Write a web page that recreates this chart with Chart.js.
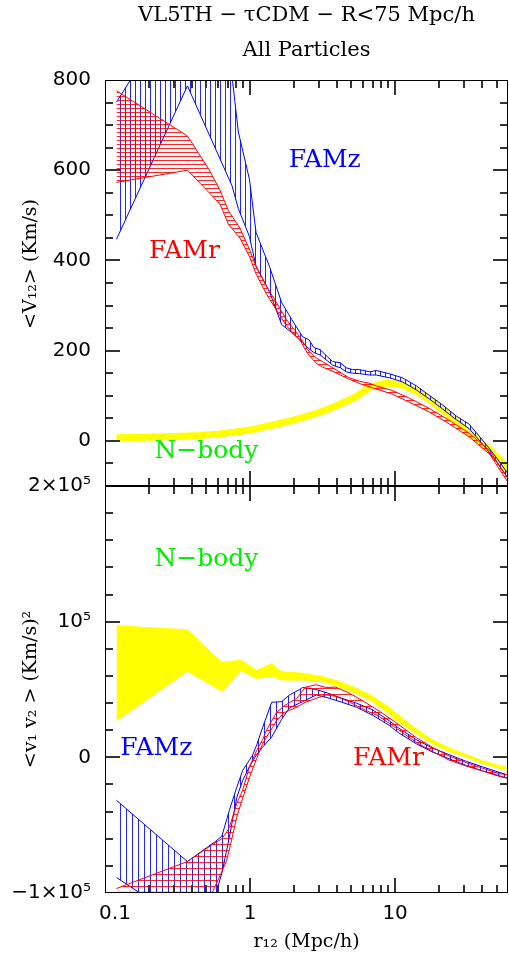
<!DOCTYPE html>
<html><head><meta charset="utf-8">
<script src="https://cdn.jsdelivr.net/npm/chart.js@4.4.1/dist/chart.umd.min.js"></script>
<style>
html,body{margin:0;padding:0;background:#fff;width:509px;height:961px;overflow:hidden}
#cTop{position:absolute;left:0;top:0}
#cBot{position:absolute;left:0;top:466px}
</style></head><body>
<canvas id="cTop" width="509" height="487"></canvas>
<canvas id="cBot" width="509" height="495"></canvas>
<script>
// ---------- Top panel: <V12> (Km/s) ----------
const topYellowR = [0.12,0.2,0.3,0.45,0.6,0.8,1.0,1.3,1.66,2.1,2.68,3.3,3.92,4.6,5.38,6.6,8.7,11.2,14.7,19.3,25,32.4,42.5,52.5,60];
const topYellowV = [7,8,10,12,15,20,24,32,40,48,58,68,78,88,98,118,129,124,107,80,50,18,-13,-42,-64];

const topBlueR  = [0.12,0.37,0.75,0.83,0.99,1.1,1.22,1.36,1.65,1.94,2.3,2.55,2.75,3.05,3.4,3.7,4.2,4.6,5.1,5.7,6.7,7.4,9.1,11.2,14,17.2,21.2,26.4,32.4,40,49.7,60];
const topBlueHi = [751,1000,810,685,580,462,425,387,307,269,231,224,207,202,187,176,173,162,158,158,153,156,149,140,122,101,80,55,37,2,-36,-73];
const topBlueLo = [447,787,566,515,453,387,360,331,258,240,218,204,196,190,178,168,162,153,150,149,146,146,140,131,113,93,71,47,27,-7,-45,-82];

const topRedR  = [0.12,0.37,0.52,0.62,0.71,0.85,0.99,1.1,1.3,1.52,1.78,2.2,2.5,2.86,3.15,3.9,4.8,5.7,6.6,7.4,9.5,12.5,17.2,23.5,32.4,45,60];
const topRedHi = [776,676,602,556,510,472,425,387,342,307,269,231,202,184,176,158,140,132,128,122,112,95,72,46,17,-22,-84];
const topRedLo = [573,600,551,525,480,450,409,370,325,290,255,224,193,172,164,151,137,127,120,115,104,86,64,38,9,-30,-92];

// ---------- Bottom panel: <v1 v2> (Km/s)^2 ----------
const botYellowR  = [0.12,0.37,0.64,0.87,1.11,1.41,1.65,2.3,3.15,4.1,5.4,7,9.1,10.6,14,18,23.5,31,40,52,60];
const botYellowHi = [97000,94000,70000,71600,64000,69000,63000,62000,59500,56000,51000,45000,37000,31000,21000,13000,7000,2000,-2500,-6000,-7500];
const botYellowLo = [27000,63500,48700,64000,58000,60000,57000,57000,56000,52000,47000,41000,32000,26000,17500,10000,4500,0,-4500,-8000,-9500];

const botBlueR  = [0.12,0.37,0.58,0.64,0.72,0.81,0.89,0.99,1.04,1.11,1.22,1.41,1.65,1.87,2.2,2.3,2.86,3.4,4.3,5.4,7,9.1,10.6,14,18,23.5,31,40,52,60];
const botBlueHi = [-31700,-76800,-61800,-58000,-39000,-22000,-9600,-2000,1500,9000,22000,40600,41000,46000,50000,51500,50000,47500,43500,40000,35000,27000,21500,13000,7000,2000,-3000,-7000,-11000,-13000];
const botBlueLo = [-88600,-123000,-101000,-85000,-59000,-29500,-17000,-7000,-3000,2000,7400,15000,28000,36500,40000,41000,46000,44000,40600,37000,31000,23600,18000,10000,4000,-1000,-6000,-10000,-13500,-15500];

const botRedR  = [0.12,0.37,0.55,0.64,0.69,0.72,0.81,0.89,0.99,1.11,1.22,1.3,1.43,1.52,1.72,2.1,2.4,2.86,3.33,3.9,4.8,5.9,7.8,10,14,18,23.5,31,40,52,60];
const botRedHi = [-96700,-76800,-64300,-60000,-55000,-51700,-34000,-24000,-7000,5000,13000,20000,28000,33000,38000,43500,51700,53500,51500,51700,47500,42000,34000,26000,14500,7500,1000,-4000,-8000,-12000,-13000];
const botRedLo = [-99500,-99500,-99500,-84000,-76000,-68000,-44000,-30000,-15000,-1000,10000,15000,22000,27000,33000,37000,40600,43500,46000,45000,41000,36000,30000,22000,11000,4500,-2000,-6500,-10000,-14000,-15500];

// ---------- Axis tick labels ----------
const xTickLabels = {0.1:'\u20030.1', 1:'1', 10:'10'};
const topYTickLabels = {0:'0', 200:'200', 400:'400', 600:'600', 800:'800'};
const botYTickLabels = {'-100000':'\u22121\u00d710\u2075', 0:'0', 100000:'10\u2075', 200000:'2\u00d710\u2075'};

// ---------- In-plot labels (data coordinates) ----------
const topNotes = [
  {text:'FAMz', r:3.27, v:622, color:'#0000ff'},
  {text:'FAMr', r:0.353, v:420, color:'#ff0000'},
  {text:'N\u2212body', r:0.5, v:-24, color:'#00ee00'}
];
const botNotes = [
  {text:'N\u2212body', r:0.5, v:146000, color:'#00ee00'},
  {text:'FAMz', r:0.226, v:6600, color:'#0000ff'},
  {text:'FAMr', r:9.0, v:-700, color:'#ff0000'}
];

Chart.defaults.color = '#000';
Chart.defaults.font.family = 'DejaVu Sans';

const pts = (xs, ys) => xs.map((x, i) => ({x, y: ys[i]}));

function hatch(color, step, vertical) {
  const c = document.createElement('canvas');
  c.width = step; c.height = step;
  const g = c.getContext('2d');
  g.fillStyle = color;
  if (vertical) g.fillRect(0, 0, 1, step); else g.fillRect(0, 0, step, 1);
  return g.createPattern(c, 'repeat');
}

function makeFrame(majorY, notes) {
  return {
    id: 'frameTicks',
    afterDraw(chart) {
      const {ctx, chartArea: a} = chart;
      const xs = chart.scales.x, ys = chart.scales.y;
      const L = Math.round(a.left), R = Math.round(a.right) - 1;
      const T = Math.round(a.top), B = Math.round(a.bottom) - 1;
      ctx.save();
      ctx.fillStyle = '#333';
      for (const t of xs.ticks) {
        const v = t.value;
        const e = Math.floor(Math.log10(v) + 1e-9);
        const s = v / Math.pow(10, e);
        if (Math.abs(s - Math.round(s)) > 1e-6) continue;
        const len = Math.abs(s - 1) < 1e-6 ? 15 : 8;
        const px = Math.round(xs.getPixelForValue(v));
        if (px <= L + 1 || px >= R - 1) continue;
        ctx.fillRect(px - 1, T, 2, len);
        ctx.fillRect(px - 1, B - len + 1, 2, len);
      }
      for (const t of ys.ticks) {
        const len = majorY(t.value) ? 15 : 8;
        const py = Math.round(ys.getPixelForValue(t.value));
        if (py <= T + 1 || py >= B - 1) continue;
        ctx.fillRect(L, py - 1, len, 2);
        ctx.fillRect(R - len + 1, py - 1, len, 2);
      }
      ctx.fillStyle = '#000';
      ctx.fillRect(L, T, R - L + 1, 1);
      ctx.fillRect(L, B, R - L + 1, 1);
      ctx.fillRect(L, T, 1, B - T + 1);
      ctx.fillRect(R, T, 1, B - T + 1);
      ctx.font = '25px "DejaVu Serif"';
      ctx.textAlign = 'center';
      ctx.textBaseline = 'middle';
      for (const n of notes) {
        ctx.fillStyle = n.color;
        ctx.fillText(n.text, xs.getPixelForValue(n.r), ys.getPixelForValue(n.v));
      }
      ctx.restore();
    }
  };
}

const lineDs = (data, color, width, fill, bg) => ({
  data, borderColor: color, borderWidth: width, fill: fill, backgroundColor: bg || 'transparent',
  pointRadius: 0, tension: 0, clip: 0
});

const xTickCb = v => {
  for (const k in xTickLabels) if (Math.abs(v - Number(k)) < 1e-9) return xTickLabels[k];
  return '';
};

const serif = {family: 'DejaVu Serif', size: 19, lineHeight: 1.2};
const tickFontY = {family: 'DejaVu Sans', size: 20, lineHeight: 0.05};
const tickFontX = {family: 'DejaVu Sans', size: 20, lineHeight: 1.2};
const hiddenGrid = {display: false, drawTicks: true, tickLength: 14};

// ---------- Top chart ----------
new Chart(document.getElementById('cTop'), {
  type: 'line',
  data: {datasets: [
    lineDs(pts(topRedR, topRedHi), '#ff0000', 1, '+1', hatch('rgba(255,0,0,0.85)', 4, false)),
    lineDs(pts(topRedR, topRedLo), '#ff0000', 1, false),
    lineDs(pts(topBlueR, topBlueHi), '#0000ff', 1, '+1', hatch('rgba(0,0,255,0.85)', 5, true)),
    lineDs(pts(topBlueR, topBlueLo), '#0000ff', 1, false),
    lineDs(pts(topYellowR, topYellowV), '#ffff00', 7, false)
  ]},
  options: {
    responsive: false, animation: false, devicePixelRatio: 1,
    layout: {padding: {left: 0, right: 1, top: 0, bottom: 1}},
    plugins: {
      legend: {display: false}, tooltip: {enabled: false},
      title: {display: true, fullSize: false, text: 'VL5TH \u2212 \u03c4CDM \u2212 R<75 Mpc/h',
        font: {family: 'DejaVu Serif', size: 21, weight: 'normal', lineHeight: 1.2},
        padding: {top: 3, bottom: 0}, color: '#000'},
      subtitle: {display: true, fullSize: false, text: 'All Particles',
        font: {family: 'DejaVu Serif', size: 21, weight: 'normal', lineHeight: 1.2},
        padding: {top: 10, bottom: 16.6}, color: '#000'}
    },
    scales: {
      x: {type: 'logarithmic', min: 0.1, max: 60, display: false,
        ticks: {autoSkip: false, callback: xTickCb}},
      y: {type: 'linear', min: -100, max: 800,
        ticks: {stepSize: 50, autoSkip: false, padding: 0, color: '#000', font: tickFontY,
          callback: v => topYTickLabels[v] !== undefined ? topYTickLabels[v] : ''},
        grid: hiddenGrid, border: {display: false},
        title: {display: true, text: '\u2003\u2003<V\u2081\u2082> (Km/s)', font: serif,
          padding: {top: 20, bottom: 0}, color: '#000'},
        afterFit(s) { s.width = 105; }
      }
    }
  },
  plugins: [makeFrame(v => v % 200 === 0, topNotes)]
});

// ---------- Bottom chart ----------
new Chart(document.getElementById('cBot'), {
  type: 'line',
  data: {datasets: [
    lineDs(pts(botRedR, botRedHi), '#ff0000', 1, '+1', hatch('rgba(255,0,0,0.85)', 6, false)),
    lineDs(pts(botRedR, botRedLo), '#ff0000', 1, false),
    lineDs(pts(botBlueR, botBlueHi), '#0000ff', 1, '+1', hatch('rgba(0,0,255,0.85)', 6, true)),
    lineDs(pts(botBlueR, botBlueLo), '#0000ff', 1, false),
    lineDs(pts(botYellowR, botYellowHi), '#ffff00', 1, '+1', '#ffff00'),
    lineDs(pts(botYellowR, botYellowLo), '#ffff00', 1, false)
  ]},
  options: {
    responsive: false, animation: false, devicePixelRatio: 1,
    layout: {padding: {left: 0, right: 1, top: 20, bottom: 0}},
    plugins: {legend: {display: false}, tooltip: {enabled: false}},
    scales: {
      x: {type: 'logarithmic', min: 0.1, max: 60,
        ticks: {autoSkip: false, maxRotation: 0, minRotation: 0, padding: 0, color: '#000',
          font: tickFontX, callback: xTickCb},
        grid: {display: false, drawTicks: true, tickLength: 9}, border: {display: false},
        title: {display: true, text: 'r\u2081\u2082 (Mpc/h)', font: serif,
          padding: {top: 0, bottom: 8}, color: '#000'},
        afterFit(s) { s.height = 68; }
      },
      y: {type: 'linear', min: -100000, max: 200000,
        ticks: {stepSize: 20000, autoSkip: false, padding: 0, color: '#000', font: tickFontY,
          callback: v => botYTickLabels[v] !== undefined ? botYTickLabels[v] : ''},
        grid: hiddenGrid, border: {display: false},
        title: {display: true, text: '<v\u2081 v\u2082 > (Km/s)\u00b2', font: serif,
          padding: {top: 20, bottom: 0}, color: '#000'},
        afterFit(s) { s.width = 105; }
      }
    }
  },
  plugins: [makeFrame(v => v % 100000 === 0, botNotes)]
});
</script>
</body></html>
